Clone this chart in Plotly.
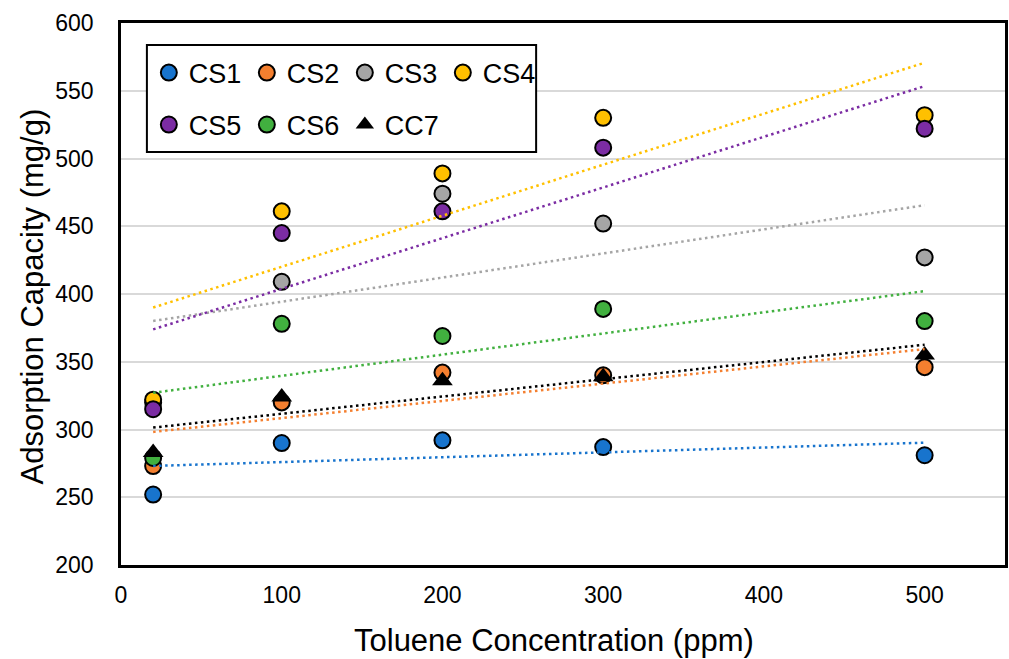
import numpy as np
import plotly.graph_objects as go

# ---- data ----
concentration = [20, 100, 200, 300, 500]
cs1 = [252, 290, 292, 287, 281]
cs2 = [273, 320, 342, 340, 346]
cs3 = [320, 409, 474, 452, 427]
cs4 = [322, 461, 489, 530, 532]
cs5 = [315, 445, 461, 508, 522]
cs6 = [279, 378, 369, 389, 380]
cc7 = [283, 324, 336, 339, 355]

series_names = ["CS1", "CS2", "CS3", "CS4", "CS5", "CS6", "CC7"]
series_values = [cs1, cs2, cs3, cs4, cs5, cs6, cc7]
colors = ["#1874CD", "#F47F2F", "#A5A5A5", "#FFC000", "#7B2CA3", "#41B03F", "#000000"]
symbols = ["circle"] * 6 + ["triangle-up"]
legend_ids = ["legend"] * 4 + ["legend2"] * 3

x_ticks = [0, 100, 200, 300, 400, 500]
y_ticks = [200, 250, 300, 350, 400, 450, 500, 550, 600]

FONT = "Liberation Sans, Arial, sans-serif"

fig = go.Figure()

for name, vals, col, sym, lg in zip(series_names, series_values, colors, symbols, legend_ids):
    fig.add_trace(go.Scatter(
        x=concentration, y=vals, mode="markers", name=name, legend=lg,
        marker=dict(symbol=sym, size=16 if sym == "circle" else 18, color=col,
                    line=dict(color="black", width=2 if sym == "circle" else 0)),
    ))

# linear trendlines (least squares from the data)
xs = np.array(concentration, dtype=float)
xline = np.array([min(concentration), max(concentration)], dtype=float)
for name, vals, col in zip(series_names, series_values, colors):
    m, b = np.polyfit(xs, np.array(vals, dtype=float), 1)
    fig.add_trace(go.Scatter(
        x=xline, y=m * xline + b, mode="lines", showlegend=False,
        line=dict(color=col, width=2.5, dash="2.5px,3.5px"), hoverinfo="skip",
    ))

axis_common = dict(
    showline=True, mirror=True, linecolor="black", linewidth=2.5,
    zeroline=False, ticks="", tickfont=dict(family=FONT, size=23, color="black"),
)

fig.update_layout(
    width=1009, height=659,
    margin=dict(l=121, r=1, t=23, b=94),
    paper_bgcolor="white", plot_bgcolor="white",
    font=dict(family=FONT, color="black"),
    xaxis=dict(range=[0, 550], tickvals=x_ticks, showgrid=False,
               ticklabelstandoff=8, **axis_common),
    yaxis=dict(range=[200, 600], tickvals=y_ticks, showgrid=True, gridcolor="#D9D9D9", gridwidth=2,
               ticklabelstandoff=20, **axis_common),
    legend=dict(orientation="h", x=0.0315, xanchor="left", y=0.9077, yanchor="middle",
                bgcolor="rgba(0,0,0,0)", borderwidth=0, font=dict(family=FONT, size=27),
                entrywidth=53, itemwidth=30, traceorder="normal"),
    legend2=dict(orientation="h", x=0.0315, xanchor="left", y=0.8118, yanchor="middle",
                 bgcolor="rgba(0,0,0,0)", borderwidth=0, font=dict(family=FONT, size=27),
                 entrywidth=53, itemwidth=30, traceorder="normal"),
    shapes=[dict(type="rect", xref="paper", yref="paper", x0=0.0293, x1=0.4696, y0=0.762, y1=0.9594,
                 line=dict(color="black", width=2), fillcolor="white", layer="above")],
    annotations=[
        dict(text="Toluene Concentration (ppm)", xref="paper", yref="paper",
             x=(556 - 121) / 888, y=-(640 - 565) / 542, xanchor="center", yanchor="middle",
             showarrow=False, font=dict(family=FONT, size=31, color="black")),
        dict(text="Adsorption Capacity (mg/g)", xref="paper", yref="paper",
             x=-(121 - 32) / 888, y=1 - (296 - 23) / 542, xanchor="center", yanchor="middle",
             textangle=-90, showarrow=False, font=dict(family=FONT, size=31, color="black")),
    ],
)

fig.write_html("out.html")
